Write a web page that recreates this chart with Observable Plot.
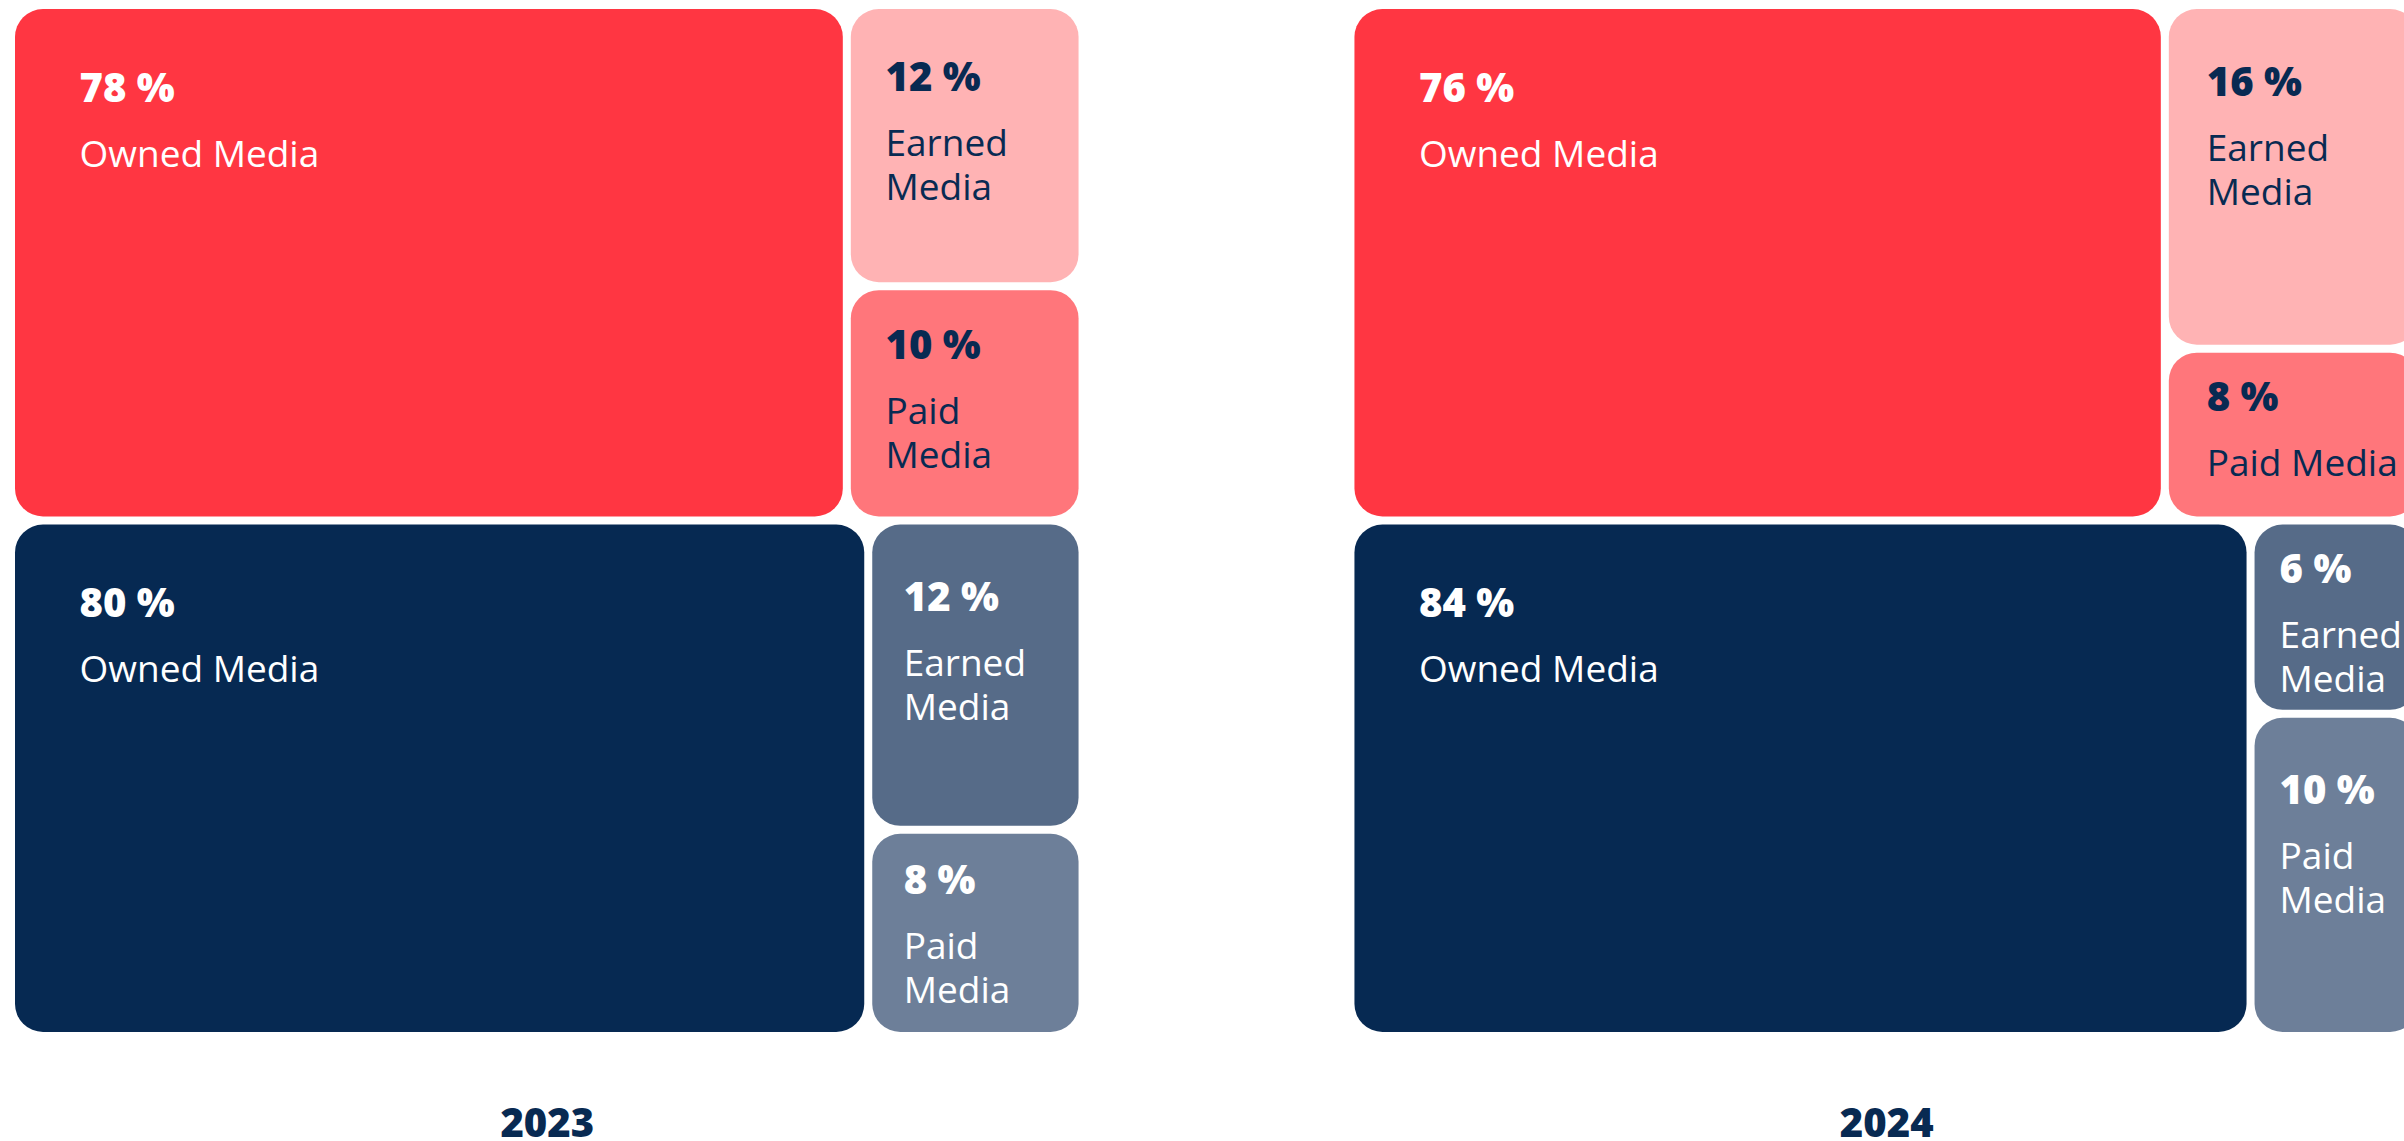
<!DOCTYPE html>
<html>
<head>
<meta charset="utf-8">
<script src="https://cdn.jsdelivr.net/npm/d3@7"></script>
<script src="https://cdn.jsdelivr.net/npm/@observablehq/plot@0.6"></script>
<style>
  html, body { margin: 0; padding: 0; background: #ffffff; overflow: hidden; }
  #chart { width: 2422px; }
</style>
</head>
<body>
<div id="chart"></div>
<script>
// ---- data ----
const years = ["2023", "2024"];
const channels = ["Owned Media", "Earned Media", "Paid Media"];
const groups = ["Group 1", "Group 2"];
const group1Shares2023 = [78, 12, 10];
const group1Shares2024 = [76, 16, 8];
const group2Shares2023 = [80, 12, 8];
const group2Shares2024 = [84, 6, 10];

// ---- styles ----
const group1Colors = ["#FF3642", "#FFB3B4", "#FF767B"];
const group2Colors = ["#062952", "#566B88", "#6D7F99"];
const group1TextColors = ["#FFFFFF", "#082A52", "#082A52"];
const group2TextColors = ["#FFFFFF", "#FFFFFF", "#FFFFFF"];
const yearColor = "#082A52";

const shares = {
  "Group 1": {"2023": group1Shares2023, "2024": group1Shares2024},
  "Group 2": {"2023": group2Shares2023, "2024": group2Shares2024}
};
const fills = {"Group 1": group1Colors, "Group 2": group2Colors};
const textFills = {"Group 1": group1TextColors, "Group 2": group2TextColors};

// ---- dimensions ----
const W = 2422, H = 1141;
const mTop = 5, mBottom = 105, mLeft = 11, mRight = 0;
const PAD_INNER = 0.2;
const PANEL_W = (W - mLeft - mRight) / (years.length - PAD_INNER) * (1 - PAD_INNER);
const PANEL_H = H - mTop - mBottom;
const INSET = 4;

const tile = (node, x0, y0, x1, y1) =>
  (node.depth % 2 === 0 ? d3.treemapSlice : d3.treemapDice)(node, x0, y0, x1, y1);

const ctx = document.createElement("canvas").getContext("2d");
ctx.font = "37px 'Open Sans'";

const cells = [], pctLabels = [], lineLabels = [];
for (const year of years) {
  const root = d3.hierarchy({
    children: groups.map(g => ({
      children: [
        {group: g, ci: 0, value: shares[g][year][0]},
        {children: [
          {group: g, ci: 1, value: shares[g][year][1]},
          {group: g, ci: 2, value: shares[g][year][2]}
        ]}
      ]
    }))
  }).sum(d => d.value || 0);
  d3.treemap().size([PANEL_W, PANEL_H]).tile(tile)(root);
  for (const leaf of root.leaves()) {
    const {group, ci, value} = leaf.data;
    const w = leaf.x1 - leaf.x0 - 2 * INSET;
    const h = leaf.y1 - leaf.y0 - 2 * INSET;
    cells.push({year, group, channel: channels[ci], x0: leaf.x0, x1: leaf.x1, y0: leaf.y0, y1: leaf.y1, fill: fills[group][ci]});
    const owned = ci === 0;
    const padX = owned ? 64 : 0.15 * w;
    const tx = leaf.x0 + INSET + padX;
    const base = leaf.y0 + INSET + (owned ? 92 : Math.max(58, Math.min(86, 0.3 * h)));
    const tf = textFills[group][ci];
    pctLabels.push({year, x: tx, y: base, text: `${value} %`, fill: tf});
    const name = channels[ci];
    const lines = ctx.measureText(name).width > w - 45 ? name.split(" ") : [name];
    lines.forEach((t, i) => lineLabels.push({year, x: tx, y: base + 65 + i * 44, text: t, fill: tf}));
  }
}

const chart = Plot.plot({
  width: W,
  height: H,
  marginTop: mTop,
  marginBottom: mBottom,
  marginLeft: mLeft,
  marginRight: mRight,
  fx: {domain: years, paddingInner: PAD_INNER, paddingOuter: 0, round: false, axis: null, label: null},
  x: {domain: [0, PANEL_W], axis: null},
  y: {domain: [0, PANEL_H], reverse: true, axis: null},
  color: {type: "identity"},
  style: {fontFamily: "'Open Sans', sans-serif", background: "#ffffff", overflow: "visible"},
  marks: [
    Plot.rect(cells, {fx: "year", x1: "x0", x2: "x1", y1: "y0", y2: "y1", fill: "fill", inset: INSET, rx: 28, ry: 28}),
    Plot.text(pctLabels, {fx: "year", x: "x", y: "y", text: "text", fill: "fill", textAnchor: "start", lineAnchor: "bottom", fontSize: 40, fontWeight: 800}),
    Plot.text(lineLabels, {fx: "year", x: "x", y: "y", text: "text", fill: "fill", textAnchor: "start", lineAnchor: "bottom", fontSize: 37, fontWeight: 400}),
    Plot.text(years.map(y => ({year: y})), {fx: "year", text: "year", frameAnchor: "bottom", dy: 100, lineAnchor: "bottom", fontSize: 40, fontWeight: 800, fill: yearColor})
  ]
});
document.getElementById("chart").appendChild(chart);
</script>
</body>
</html>
